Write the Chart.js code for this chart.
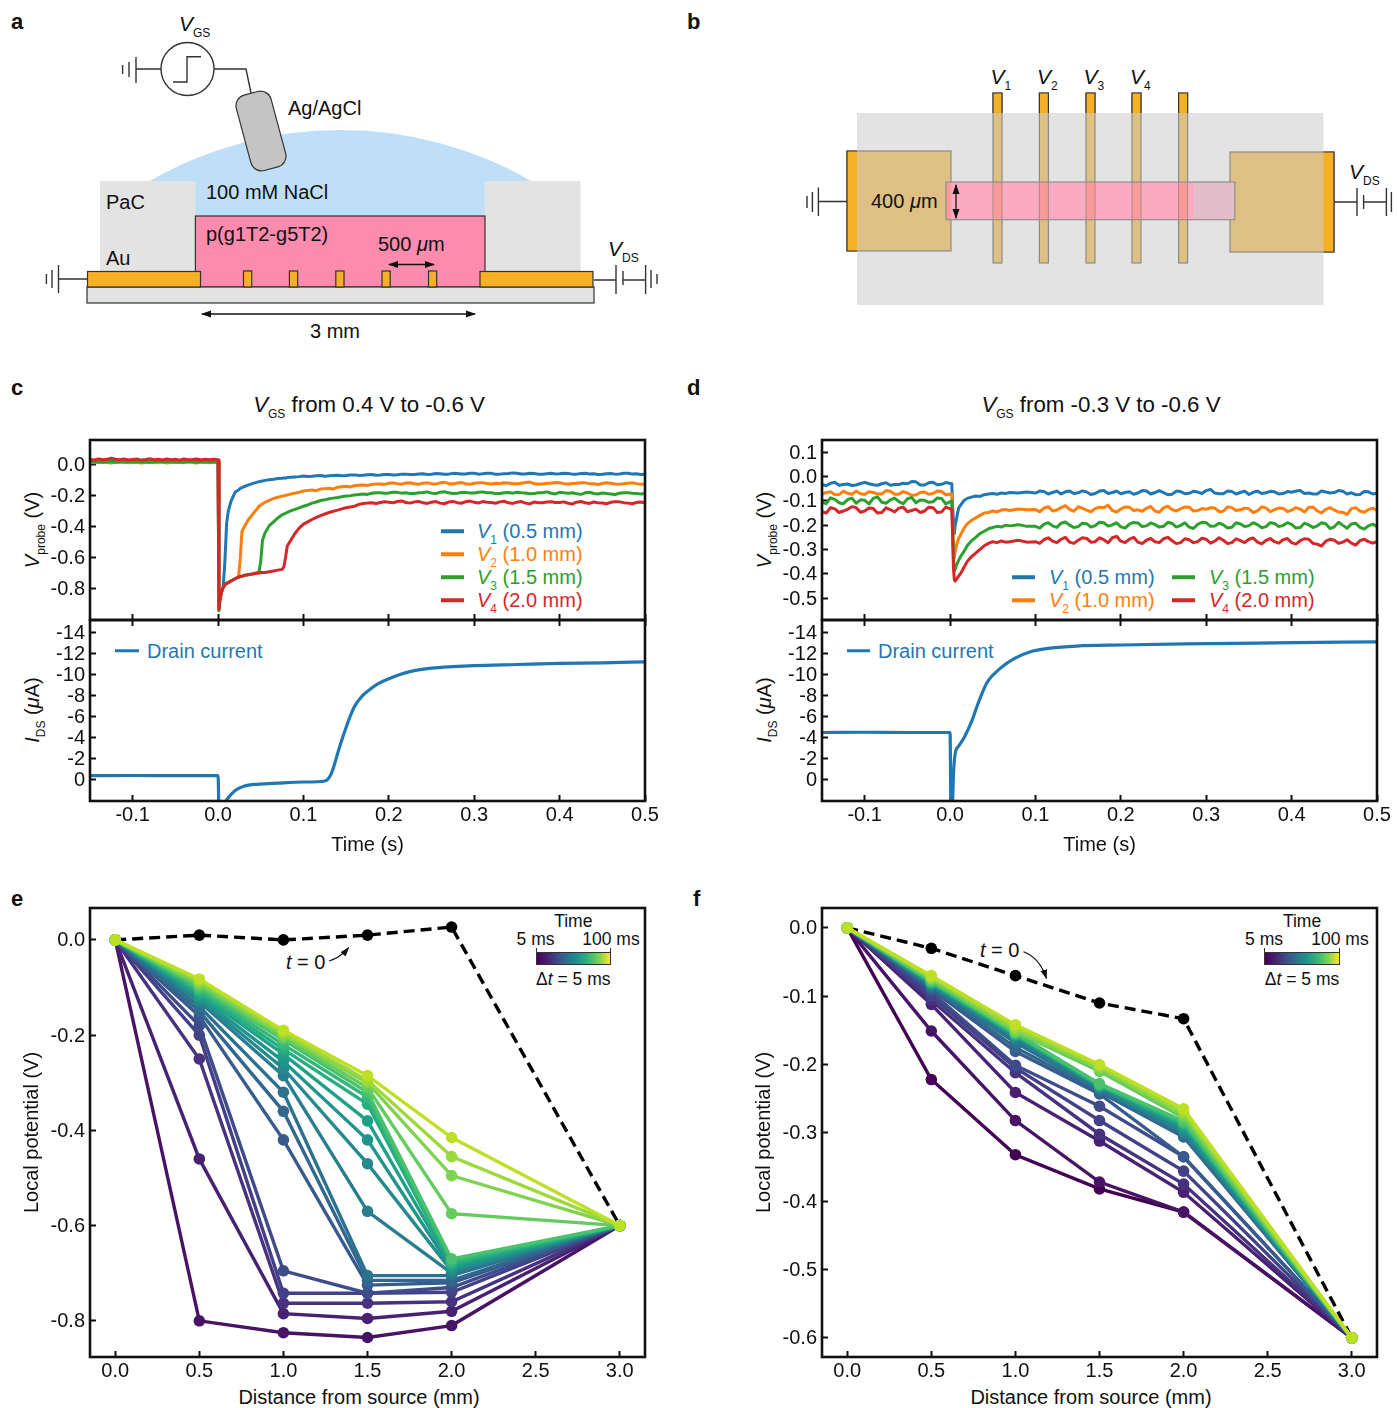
<!DOCTYPE html>
<html><head><meta charset="utf-8">
<script src="https://cdn.jsdelivr.net/npm/chart.js@4"></script>
<style>
html,body{margin:0;padding:0;background:#fff;width:1397px;height:1408px;overflow:hidden;font-family:"Liberation Sans",Arial,sans-serif;color:#111}
canvas{position:absolute}
.t{position:absolute;white-space:nowrap;font-size:20px;line-height:1;transform:translateY(-50%)}
.c{transform:translate(-50%,-50%)}
.r{transform:translate(-50%,-50%) rotate(-90deg)}
.b{font-weight:bold;font-size:22px}
sub{font-size:12px;vertical-align:baseline;position:relative;top:6px;margin-left:0;font-style:normal}
i sub{font-style:normal}
.sw{position:absolute;height:3.5px;transform:translateY(-50%)}
.cb{position:absolute;height:12.5px;box-sizing:border-box;border:1px solid #333;background:linear-gradient(90deg,#440154,#482173,#3e4c8a,#2c728e,#1f958b,#35b779,#7fd34e,#fde725)}
.tk{position:absolute;width:1.2px;height:5px;background:#333}
svg{position:absolute;left:0;top:0}
svg text{font-family:"Liberation Sans",Arial,sans-serif;font-size:20px;fill:#111}
</style></head><body>

<svg width="1397" height="1408" viewBox="0 0 1397 1408">
<defs>
<marker id="ah" viewBox="0 0 10 10" refX="9" refY="5" markerWidth="8" markerHeight="8" orient="auto-start-reverse"><path d="M0,1.5L10,5L0,8.5Z" fill="#111"/></marker>
</defs>
<!-- panel a -->
<path d="M148,182A382,382 0 0 1 533,182L533,217L148,217Z" fill="#bfdff8"/>
<g fill="#e3e3e3"><rect x="100" y="181" width="95.4" height="91"/><rect x="484.5" y="181" width="96" height="91"/></g>
<rect x="195.4" y="216" width="289.6" height="71" fill="#fc8bae" stroke="#333" stroke-width="1.2"/>
<rect x="87" y="287" width="507" height="16" fill="#e3e3e3" stroke="#333" stroke-width="1.2"/>
<g fill="#f5b025" stroke="#333" stroke-width="1.2">
<rect x="87.5" y="271.5" width="113" height="15.5"/><rect x="480" y="271.5" width="113" height="15.5"/>
<rect x="243.5" y="271" width="8.2" height="16"/><rect x="289.4" y="271" width="8.2" height="16"/><rect x="335.8" y="271" width="8.2" height="16"/><rect x="382" y="271" width="8.2" height="16"/><rect x="428.5" y="271" width="8.2" height="16"/>
</g>
<g fill="none" stroke="#333" stroke-width="1.4">
<circle cx="187.5" cy="69" r="26.5"/>
<path d="M173,82H187V56.7H201"/>
<path d="M161,69H136M136,57V83M129,62V77M122.6,65V74"/>
<path d="M214,69H246L251,93"/>
<path d="M87,279H58.5M58.5,265V293M52,270V288M46.4,274V284"/>
<path d="M594,280H616M616,265V294M623,271V285M623,280H645.6M645.6,265V294M651,270V288M657,274V284"/>
</g>
<rect x="243" y="92" width="36" height="78" rx="11" transform="rotate(-15 261 131)" fill="#c4c4c4" stroke="#333" stroke-width="1.2"/>
<g stroke="#111" stroke-width="1.3" fill="none" marker-start="url(#ah)" marker-end="url(#ah)">
<line x1="389" y1="264.5" x2="434" y2="264.5"/><line x1="202" y1="314" x2="475" y2="314"/>
</g>
<g dominant-baseline="central">
<text x="288" y="108">Ag/AgCl</text><text x="106" y="202">PaC</text><text x="106" y="258">Au</text>
<text x="206" y="192">100 mM NaCl</text><text x="206" y="234">p(g1T2-g5T2)</text>
<text x="378" y="244">500 <tspan font-style="italic">μ</tspan>m</text><text x="310" y="331">3 mm</text>
</g>
<!-- panel b -->
<rect x="857" y="113" width="466.5" height="192" fill="#e3e3e3"/>
<g stroke="#8a8a8a" stroke-width="1.2" fill="#dfc084">
<rect x="847" y="151" width="104" height="100"/><rect x="1230" y="152" width="104" height="100"/>
<rect x="993" y="93" width="9" height="170"/><rect x="1039.4" y="93" width="9" height="170"/><rect x="1086" y="93" width="9" height="170"/><rect x="1132" y="93" width="9" height="170"/><rect x="1178.6" y="93" width="9" height="170"/>
</g>
<g fill="#f5b025">
<rect x="847" y="151" width="10" height="100"/><rect x="1323.5" y="152" width="10.5" height="100"/>
<rect x="993" y="93" width="9" height="20"/><rect x="1039.4" y="93" width="9" height="20"/><rect x="1086" y="93" width="9" height="20"/><rect x="1132" y="93" width="9" height="20"/><rect x="1178.6" y="93" width="9" height="20"/>
</g>
<g fill="none" stroke="#333" stroke-width="1.2">
<path d="M857,151H847V251H857M1323.5,152H1334V252H1323.5"/>
<path d="M993,113V93H1002V113M1039.4,113V93H1048.4V113M1086,113V93H1095V113M1132,113V93H1141V113M1178.6,113V93H1187.6V113"/>
</g>
<rect x="946" y="182" width="248.6" height="37.7" fill="#fbaac4"/>
<rect x="1194.6" y="182" width="40.2" height="37.7" fill="#e2bcc8"/>
<g fill="#fa9a9a"><rect x="946" y="182" width="5" height="37.7"/><rect x="993" y="182" width="9" height="37.7"/><rect x="1039.4" y="182" width="9" height="37.7"/><rect x="1086" y="182" width="9" height="37.7"/><rect x="1132" y="182" width="9" height="37.7"/><rect x="1178.6" y="182" width="9" height="37.7"/></g>
<g stroke="#a58a80" stroke-width="1"><path d="M993,182V220M1002,182V220M1039.4,182V220M1048.4,182V220M1086,182V220M1095,182V220M1132,182V220M1141,182V220M1178.6,182V220M1187.6,182V220"/></g>
<rect x="946" y="182" width="288.8" height="37.7" fill="none" stroke="#8f8f8f" stroke-width="1.2"/>
<line x1="956" y1="185" x2="956" y2="218" stroke="#111" stroke-width="1.3" marker-start="url(#ah)" marker-end="url(#ah)"/>
<g fill="none" stroke="#333" stroke-width="1.4">
<path d="M847,201.5H818.4M818.4,187.6V216M812.4,192V212M807,196V208"/>
<path d="M1334,202H1357M1357,188V216M1363.6,195V209M1363.6,202H1386.4M1386.4,188V216M1391.4,192V212"/>
</g>
<text x="871" y="201" dominant-baseline="central">400 <tspan font-style="italic">μ</tspan>m</text>
<!-- t = 0 arrows -->
<g fill="none" stroke="#111" stroke-width="1.2" marker-end="url(#ah)">
<path d="M329,961Q340,958 348.6,947.7"/><path d="M1023.5,951.7Q1040,958 1046.4,978.3"/>
</g>
</svg>

<div id="overlay"></div>

<script>
// ---------- shared time grids ----------
const preC=[-0.15,-0.145,-0.14,-0.135,-0.13,-0.125,-0.12,-0.115,-0.11,-0.105,-0.10,-0.095,-0.09,-0.085,-0.08,-0.075,-0.07,-0.065,-0.06,-0.055,-0.05,-0.045,-0.04,-0.035,-0.03,-0.025,-0.02,-0.015,-0.01,-0.005,0.0];
const preD=[-0.15,-0.145,-0.14,-0.135,-0.13,-0.125,-0.12,-0.115,-0.11,-0.105,-0.10,-0.095,-0.09,-0.085,-0.08,-0.075,-0.07,-0.065,-0.06,-0.055,-0.05,-0.045,-0.04,-0.035,-0.03,-0.025,-0.02,-0.015,-0.01,-0.005,0.002];
const tail=[0.100,0.105,0.110,0.115,0.120,0.125,0.130,0.135,0.140,0.145,0.150,0.155,0.160,0.165,0.170,0.175,0.180,0.185,0.190,0.195,0.200,0.205,0.210,0.215,0.220,0.225,0.230,0.235,0.240,0.245,0.250,0.255,0.260,0.265,0.270,0.275,0.280,0.285,0.290,0.295,0.300,0.305,0.310,0.315,0.320,0.325,0.330,0.335,0.340,0.345,0.350,0.355,0.360,0.365,0.370,0.375,0.380,0.385,0.390,0.395,0.400,0.405,0.410,0.415,0.420,0.425,0.430,0.435,0.440,0.445,0.450,0.455,0.460,0.465,0.470,0.475,0.480,0.485,0.490,0.495,0.500];
// ---------- panel c : probe traces ----------
const midC=[0.001,0.002,0.004,0.006,0.008,0.010,0.012,0.015,0.020,0.024,0.026,0.028,0.030,0.035,0.040,0.046,0.048,0.050,0.052,0.055,0.060,0.065,0.070,0.075,0.077,0.079,0.081,0.085,0.090,0.095];
const timeC=[...preC,...midC,...tail];
const c1=[.022,.024,.020,.023,.019,.022,.025,.021,.024,.020,.022,.019,.023,.021,.024,.020,.022,.025,.019,.023,.021,.020,.024,.022,.019,.023,.021,.024,.020,.022,.021,
-.93,-.86,-.82,-.79,-.62,-.38,-.30,-.24,-.18,-.165,-.155,-.150,-.145,-.135,-.125,-.115,-.112,-.110,-.108,-.104,-.100,-.097,-.092,-.090,-.088,-.090,-.086,-.084,-.082,-.080,
-.076,-.079,-.078,-.074,-.073,-.077,-.075,-.072,-.071,-.075,-.073,-.070,-.069,-.072,-.071,-.068,-.067,-.071,-.070,-.066,-.066,-.069,-.068,-.064,-.064,-.067,-.067,-.063,-.062,-.066,-.065,-.060,-.061,-.065,-.064,-.059,-.060,-.063,-.063,-.058,-.058,-.064,-.062,-.059,-.059,-.065,-.064,-.061,-.060,-.056,-.058,-.063,-.063,-.059,-.060,-.064,-.065,-.061,-.059,-.063,-.062,-.058,-.060,-.064,-.064,-.060,-.058,-.063,-.061,-.066,-.065,-.061,-.060,-.064,-.063,-.059,-.059,-.063,-.062,-.066,-.064];
const c2=[.012,.009,.013,.010,.011,.008,.012,.010,.013,.009,.011,.012,.008,.010,.012,.011,.009,.013,.008,.011,.010,.012,.009,.013,.011,.008,.012,.010,.009,.012,.011,
-.93,-.87,-.82,-.79,-.775,-.765,-.76,-.75,-.735,-.725,-.60,-.43,-.41,-.36,-.325,-.285,-.270,-.262,-.255,-.245,-.232,-.22,-.212,-.205,-.203,-.20,-.198,-.192,-.186,-.180,
-.172,-.169,-.166,-.170,-.160,-.157,-.155,-.159,-.148,-.145,-.142,-.146,-.138,-.135,-.134,-.137,-.130,-.128,-.127,-.130,-.123,-.120,-.125,-.128,-.121,-.119,-.126,-.129,-.122,-.120,-.125,-.128,-.120,-.117,-.124,-.127,-.121,-.118,-.126,-.129,-.123,-.119,-.120,-.124,-.127,-.122,-.124,-.120,-.121,-.126,-.126,-.122,-.118,-.115,-.124,-.128,-.127,-.123,-.122,-.118,-.119,-.125,-.128,-.124,-.123,-.119,-.120,-.125,-.126,-.130,-.124,-.120,-.122,-.127,-.129,-.125,-.122,-.119,-.125,-.129,-.127];
const c3=[.018,.014,.016,.013,.017,.015,.014,.018,.013,.016,.015,.017,.014,.016,.013,.016,.018,.014,.015,.017,.013,.016,.014,.018,.015,.013,.017,.016,.014,.015,.016,
-.94,-.88,-.82,-.79,-.775,-.765,-.76,-.75,-.735,-.725,-.72,-.72,-.715,-.71,-.705,-.695,-.69,-.62,-.49,-.44,-.395,-.37,-.345,-.325,-.32,-.315,-.31,-.30,-.29,-.28,
-.270,-.262,-.250,-.243,-.233,-.229,-.222,-.218,-.214,-.209,-.205,-.202,-.198,-.195,-.191,-.194,-.187,-.184,-.183,-.187,-.185,-.180,-.181,-.186,-.184,-.189,-.188,-.183,-.182,-.178,-.186,-.189,-.180,-.177,-.184,-.188,-.187,-.182,-.181,-.185,-.185,-.180,-.178,-.183,-.184,-.189,-.188,-.183,-.182,-.186,-.180,-.184,-.185,-.190,-.189,-.184,-.183,-.178,-.187,-.191,-.181,-.184,-.186,-.183,-.190,-.194,-.184,-.180,-.188,-.192,-.185,-.188,-.191,-.195,-.187,-.183,-.183,-.187,-.188,-.192,-.189];
const c4=[.030,.027,.034,.028,.032,.038,.031,.028,.034,.027,.030,.033,.026,.030,.035,.029,.032,.027,.033,.029,.031,.026,.034,.028,.030,.033,.027,.031,.029,.032,.029,
-.93,-.88,-.82,-.79,-.775,-.765,-.76,-.75,-.735,-.725,-.72,-.72,-.715,-.71,-.705,-.70,-.70,-.695,-.695,-.695,-.69,-.685,-.68,-.675,-.66,-.60,-.525,-.49,-.445,-.41,
-.385,-.370,-.355,-.342,-.330,-.320,-.310,-.302,-.295,-.287,-.280,-.275,-.270,-.258,-.253,-.250,-.248,-.252,-.246,-.241,-.244,-.248,-.240,-.236,-.246,-.250,-.242,-.239,-.248,-.252,-.244,-.240,-.250,-.254,-.243,-.239,-.247,-.251,-.241,-.237,-.245,-.249,-.240,-.244,-.246,-.251,-.242,-.238,-.248,-.252,-.244,-.240,-.250,-.255,-.243,-.247,-.247,-.243,-.241,-.246,-.246,-.242,-.251,-.255,-.244,-.240,-.248,-.252,-.243,-.247,-.249,-.254,-.245,-.241,-.242,-.247,-.250,-.254,-.246,-.243,-.248];
// ---------- panel c : drain current ----------
const timeIC=[-0.15,-0.10,-0.05,-0.001,0.0,0.001,0.007,0.010,0.015,0.020,0.030,0.048,0.070,0.100,0.125,0.132,0.136,0.140,0.145,0.150,0.155,0.160,0.167,0.175,0.187,0.200,0.213,0.226,0.250,0.275,0.300,0.350,0.400,0.450,0.500];
const currentC=[-.4,-.42,-.4,-.4,-.4,2.5,2.5,1.9,1.4,1.0,.6,.4,.3,.2,.1,-.5,-1.4,-2.5,-3.8,-5,-6.1,-7,-7.8,-8.4,-9.1,-9.6,-10,-10.3,-10.6,-10.75,-10.85,-10.95,-11.05,-11.1,-11.2];
// ---------- panel d : probe traces ----------
const midD=[0.003,0.004,0.005,0.006,0.008,0.010,0.013,0.016,0.020,0.025,0.030,0.035,0.040,0.045,0.050,0.055,0.060,0.065,0.070,0.080,0.090];
const timeD=[...preD,...midD,...tail];
const d1=[-.033,-.038,-.028,-.024,-.036,-.033,-.031,-.037,-.035,-.029,-.024,-.030,-.034,-.036,-.030,-.026,-.036,-.033,-.033,-.028,-.030,-.021,-.022,-.035,-.035,-.026,-.024,-.034,-.032,-.025,-.030,
-.12,-.20,-.235,-.20,-.165,-.13,-.115,-.10,-.09,-.085,-.08,-.082,-.075,-.072,-.07,-.073,-.068,-.07,-.066,-.068,-.064,
-.068,-.060,-.062,-.072,-.066,-.060,-.072,-.063,-.060,-.070,-.067,-.059,-.064,-.074,-.070,-.060,-.058,-.070,-.066,-.060,-.071,-.066,-.063,-.073,-.068,-.058,-.060,-.072,-.066,-.058,-.066,-.075,-.073,-.060,-.062,-.071,-.069,-.061,-.064,-.070,-.058,-.053,-.068,-.071,-.071,-.060,-.062,-.072,-.066,-.060,-.074,-.065,-.060,-.070,-.067,-.061,-.063,-.072,-.070,-.062,-.065,-.060,-.058,-.070,-.068,-.072,-.072,-.060,-.064,-.068,-.066,-.058,-.061,-.072,-.067,-.075,-.074,-.062,-.063,-.072,-.069];
const d2=[-.072,-.066,-.063,-.074,-.075,-.060,-.069,-.073,-.060,-.071,-.074,-.063,-.066,-.072,-.072,-.058,-.061,-.073,-.073,-.062,-.068,-.077,-.076,-.066,-.064,-.073,-.070,-.060,-.062,-.075,-.072,
-.18,-.30,-.335,-.31,-.275,-.255,-.235,-.215,-.195,-.18,-.17,-.16,-.15,-.148,-.142,-.145,-.138,-.136,-.140,-.134,-.137,
-.136,-.145,-.130,-.124,-.142,-.138,-.128,-.120,-.135,-.143,-.124,-.130,-.138,-.145,-.132,-.126,-.128,-.118,-.140,-.146,-.134,-.125,-.126,-.140,-.137,-.143,-.131,-.123,-.142,-.147,-.129,-.122,-.136,-.142,-.133,-.125,-.126,-.142,-.140,-.132,-.135,-.128,-.130,-.144,-.143,-.125,-.128,-.140,-.137,-.130,-.133,-.148,-.141,-.125,-.129,-.145,-.136,-.130,-.131,-.144,-.139,-.128,-.134,-.146,-.127,-.125,-.141,-.150,-.135,-.128,-.138,-.146,-.148,-.156,-.132,-.128,-.142,-.147,-.136,-.130,-.139];
const d3=[-.105,-.112,-.088,-.094,-.108,-.112,-.095,-.089,-.110,-.096,-.098,-.113,-.090,-.084,-.106,-.110,-.096,-.089,-.103,-.112,-.092,-.086,-.108,-.097,-.098,-.106,-.104,-.088,-.090,-.113,-.100,
-.22,-.34,-.39,-.38,-.36,-.345,-.325,-.31,-.285,-.265,-.25,-.235,-.225,-.215,-.21,-.205,-.208,-.20,-.203,-.198,-.205,
-.205,-.212,-.196,-.190,-.203,-.209,-.192,-.187,-.200,-.210,-.206,-.192,-.194,-.208,-.202,-.188,-.190,-.204,-.199,-.190,-.207,-.212,-.196,-.189,-.191,-.206,-.203,-.191,-.198,-.208,-.205,-.188,-.193,-.208,-.201,-.190,-.208,-.214,-.197,-.188,-.190,-.205,-.204,-.192,-.199,-.212,-.209,-.190,-.195,-.206,-.202,-.190,-.198,-.211,-.206,-.190,-.193,-.206,-.201,-.190,-.197,-.212,-.210,-.192,-.199,-.210,-.203,-.190,-.194,-.214,-.207,-.188,-.201,-.213,-.195,-.192,-.209,-.216,-.203,-.196,-.206];
const d4=[-.145,-.150,-.128,-.133,-.148,-.142,-.135,-.124,-.128,-.147,-.142,-.130,-.132,-.150,-.148,-.129,-.136,-.146,-.130,-.126,-.145,-.140,-.134,-.148,-.142,-.126,-.128,-.148,-.146,-.126,-.135,
-.25,-.38,-.425,-.43,-.42,-.41,-.395,-.375,-.35,-.33,-.315,-.30,-.285,-.275,-.268,-.272,-.265,-.27,-.268,-.262,-.27,
-.268,-.275,-.260,-.252,-.266,-.272,-.258,-.250,-.270,-.275,-.262,-.252,-.255,-.270,-.268,-.252,-.260,-.272,-.252,-.246,-.266,-.272,-.258,-.250,-.270,-.276,-.262,-.255,-.268,-.272,-.256,-.250,-.264,-.276,-.272,-.256,-.260,-.272,-.268,-.254,-.258,-.274,-.266,-.252,-.262,-.276,-.272,-.256,-.264,-.272,-.258,-.253,-.270,-.277,-.263,-.255,-.268,-.274,-.260,-.255,-.272,-.278,-.264,-.256,-.258,-.275,-.278,-.286,-.266,-.258,-.262,-.275,-.270,-.260,-.274,-.282,-.264,-.258,-.268,-.274,-.268];
// ---------- panel d : drain current ----------
const timeID=[-0.15,-0.10,-0.05,-0.001,0.0,0.001,0.003,0.004,0.006,0.010,0.017,0.025,0.033,0.043,0.059,0.075,0.096,0.117,0.148,0.200,0.275,0.380,0.500];
const currentD=[-4.5,-4.52,-4.5,-4.5,-4.5,2.5,1.9,-.6,-2.5,-3.2,-4.1,-5.5,-7.3,-9.2,-10.6,-11.5,-12.2,-12.5,-12.7,-12.8,-12.9,-13.0,-13.1];
// ---------- panels e, f : potential profiles ----------
const distance=[0,0.5,1.0,1.5,2.0,3.0];
const initialE=[0,.01,0,.01,.027,-.6];
const initialF=[0,-.03,-.07,-.11,-.133,-.6];
const profilesE=[
[0,-.80,-.825,-.835,-.81,-.6],[0,-.46,-.785,-.795,-.78,-.6],[0,-.25,-.763,-.763,-.76,-.6],[0,-.20,-.742,-.742,-.74,-.6],
[0,-.18,-.695,-.742,-.73,-.6],[0,-.16,-.42,-.725,-.72,-.6],[0,-.15,-.36,-.715,-.715,-.6],[0,-.14,-.32,-.705,-.705,-.6],
[0,-.13,-.285,-.57,-.70,-.6],[0,-.125,-.27,-.47,-.695,-.6],[0,-.12,-.255,-.42,-.69,-.6],[0,-.115,-.24,-.38,-.685,-.6],
[0,-.11,-.23,-.345,-.68,-.6],[0,-.105,-.22,-.33,-.675,-.6],[0,-.10,-.21,-.32,-.67,-.6],[0,-.095,-.205,-.31,-.575,-.6],
[0,-.09,-.20,-.30,-.495,-.6],[0,-.085,-.195,-.295,-.455,-.6],[0,-.082,-.19,-.285,-.415,-.6]];
const profilesF=[
[0,-.222,-.332,-.382,-.416,-.6],[0,-.151,-.282,-.372,-.416,-.6],[0,-.112,-.241,-.312,-.387,-.6],[0,-.106,-.212,-.302,-.375,-.6],
[0,-.10,-.205,-.282,-.356,-.6],[0,-.094,-.201,-.261,-.335,-.6],[0,-.09,-.181,-.243,-.335,-.6],[0,-.088,-.175,-.24,-.306,-.6],
[0,-.086,-.168,-.237,-.303,-.6],[0,-.084,-.163,-.235,-.30,-.6],[0,-.083,-.16,-.233,-.296,-.6],[0,-.082,-.158,-.232,-.293,-.6],
[0,-.081,-.157,-.231,-.29,-.6],[0,-.08,-.156,-.23,-.287,-.6],[0,-.079,-.155,-.23,-.285,-.6],[0,-.078,-.154,-.228,-.283,-.6],
[0,-.076,-.152,-.21,-.278,-.6],[0,-.074,-.15,-.206,-.274,-.6],[0,-.072,-.146,-.203,-.27,-.6],[0,-.07,-.142,-.20,-.265,-.6]];
const viridis=['#440154','#471365','#482173','#46327e','#424086','#3e4c8a','#375b8d','#31678e','#2c728e','#287d8e','#238a8d','#1f958b','#1fa187','#26ad81','#35b779','#4ac16d','#64cb5f','#7fd34e','#9dd93b','#bddf26'];
// ---------- ticks ----------
const ticksTime=[-0.1,0,0.1,0.2,0.3,0.4,0.5];
const ticksProbeC=[0,-0.2,-0.4,-0.6,-0.8];
const ticksProbeD=[0.1,0,-0.1,-0.2,-0.3,-0.4,-0.5];
const ticksCurrent=[-14,-12,-10,-8,-6,-4,-2,0];
const ticksDistance=[0,0.5,1,1.5,2,2.5,3];
const ticksLocalE=[0,-0.2,-0.4,-0.6,-0.8];
const ticksLocalF=[0,-0.1,-0.2,-0.3,-0.4,-0.5,-0.6];
const tab=['#1f77b4','#ff7f0e','#2ca02c','#d62728'];

const FONT={family:'"Liberation Sans"',size:20};
const fix1=v=>Number(v).toFixed(1), fix0=v=>String(v);
const frame={id:'frame',afterDatasetsDraw(ch){const a=ch.chartArea,c=ch.ctx;c.save();c.strokeStyle='#111';c.lineWidth=2.6;c.strokeRect(a.left,a.top,a.right-a.left,a.bottom-a.top);c.restore();}};
const zip=(xs,ys)=>ys.map((y,i)=>({x:xs[i],y}));

function axis(o){return Object.assign({type:'linear',offset:false,border:{display:false},
  grid:{drawOnChartArea:false,drawTicks:true,tickLength:-6,tickWidth:2,tickColor:'#111'},
  },{min:o.min,max:o.max,reverse:!!o.reverse,position:o.pos,
  ticks:{display:o.labels!==false,autoSkip:false,maxRotation:0,includeBounds:false,font:FONT,color:'#111',padding:o.pad,labelOffset:o.lo||0,callback:o.fmt||fix1},
  afterBuildTicks(s){s.ticks=o.ticks.map(v=>({value:v}));},
  afterFit(s){ if(o.size.w!==undefined)s.width=o.size.w; if(o.size.h!==undefined)s.height=o.size.h; s.paddingLeft=s.paddingRight=s.paddingTop=s.paddingBottom=0; },
  title:o.title?{display:true,text:o.title,font:FONT,color:'#111',padding:0}:{display:false}});}

function plot(f,xo,yo,datasets,extra){
  const cv=document.createElement('canvas');
  const yW=70, pr=30, pt=10, xH=xo.labels===false?2:(xo.h||56);
  cv.width=f.r-f.l+yW+pr; cv.height=f.b-f.t+pt+xH;
  cv.style.left=(f.l-yW)+'px'; cv.style.top=(f.t-pt)+'px';
  cv.style.width=cv.width+'px'; cv.style.height=cv.height+'px';
  document.body.appendChild(cv);
  const scales={x:axis({...xo,pos:'bottom',size:{h:xH}}),y:axis({...yo,lo:1,pos:'left',size:{w:yW}})};
  if(extra)Object.assign(scales,extra);
  new Chart(cv.getContext('2d'),{type:'line',data:{datasets},plugins:[frame],options:{
    responsive:false,animation:false,devicePixelRatio:1,events:[],
    layout:{padding:{top:pt,right:pr,left:0,bottom:0}},
    plugins:{legend:{display:false},tooltip:{enabled:false}},
    scales}});
}
const trace=(x,y,color)=>({data:zip(x,y),borderColor:color,borderWidth:3,pointRadius:0,tension:0,fill:false,borderJoinStyle:'round'});
const current=(x,y,color)=>({data:zip(x,y),borderColor:color,borderWidth:3.2,pointRadius:0,cubicInterpolationMode:'monotone',fill:false});
const profile=(y,color,i)=>({data:zip(distance,y),borderColor:color,backgroundColor:color,borderWidth:3.4,pointRadius:5.8,pointBorderWidth:0,pointBackgroundColor:color,tension:0,order:100-i});
function dividerAxis(){return axis({min:-0.15,max:0.5,pos:'top',ticks:ticksTime,labels:false,pad:0,size:{h:0}});}

// panel c
plot({l:90,r:645,t:440,b:620},{min:-0.15,max:0.5,ticks:ticksTime,labels:false,pad:0},
  {min:-1.0,max:0.155,ticks:ticksProbeC,pad:11},
  [trace(timeC,c1,tab[0]),trace(timeC,c2,tab[1]),trace(timeC,c3,tab[2]),trace(timeC,c4,tab[3])].map((d,i)=>({...d,order:4-i})));
plot({l:90,r:645,t:620,b:801},{min:-0.15,max:0.5,ticks:ticksTime,pad:8,title:'Time (s)'},
  {min:-15.17,max:2,reverse:true,ticks:ticksCurrent,pad:11,fmt:fix0},
  [current(timeIC,currentC,tab[0])],{x2:dividerAxis()});
// panel d
plot({l:822,r:1377,t:440,b:620},{min:-0.15,max:0.5,ticks:ticksTime,labels:false,pad:0},
  {min:-0.59,max:0.15,ticks:ticksProbeD,pad:11},
  [trace(timeD,d1,tab[0]),trace(timeD,d2,tab[1]),trace(timeD,d3,tab[2]),trace(timeD,d4,tab[3])].map((d,i)=>({...d,order:4-i})));
plot({l:822,r:1377,t:620,b:801},{min:-0.15,max:0.5,ticks:ticksTime,pad:8,title:'Time (s)'},
  {min:-15.17,max:2,reverse:true,ticks:ticksCurrent,pad:11,fmt:fix0},
  [current(timeID,currentD,tab[0])],{x2:dividerAxis()});
// panel e
const black=y=>({data:zip(distance,y),borderColor:'#000',borderWidth:3.4,borderDash:[11,6],pointRadius:5.8,pointBorderWidth:0,pointBackgroundColor:'#000',tension:0,order:200});
plot({l:90,r:645,t:908,b:1357},{min:-0.15,max:3.15,ticks:ticksDistance,pad:8,h:34},
  {min:-0.876,max:0.067,ticks:ticksLocalE,pad:11,title:'Local potential (V)'},
  [black(initialE),...profilesE.map((p,i)=>profile(p,viridis[i+1],i))]);
// panel f
plot({l:822,r:1377,t:908,b:1357},{min:-0.15,max:3.15,ticks:ticksDistance,pad:8,h:34},
  {min:-0.628,max:0.029,ticks:ticksLocalF,pad:11,title:'Local potential (V)'},
  [black(initialF),...profilesF.map((p,i)=>profile(p,viridis[i],i))]);

// ---------- html text ----------
const ov=document.getElementById('overlay');
function T(html,x,y,cls,style){const d=document.createElement('div');d.className='t '+(cls||'');d.innerHTML=html;d.style.left=x+'px';d.style.top=y+'px';if(style)d.style.cssText+=';'+style;ov.appendChild(d);}
function S(x1,x2,y,col){const d=document.createElement('div');d.className='sw';d.style.cssText=`left:${x1}px;width:${x2-x1}px;top:${y}px;background:${col}`;ov.appendChild(d);}
[['a',11,22],['b',687,22],['c',11,388],['d',687,388],['e',11,899],['f',693,899]].forEach(p=>T(p[0],p[1],p[2],'b'));
T('Distance from source (mm)',359,1397,'c');
T('Distance from source (mm)',1091,1397,'c');
T('<i>V</i><sub>GS</sub>',179,23,'','font-size:21px');
T('<i>V</i><sub>DS</sub>',608,248,'','font-size:21px');
T('<i>V</i><sub>DS</sub>',1349,171,'','font-size:21px');
[['1',990.5],['2',1037],['3',1083.6],['4',1130]].forEach(p=>T('<i>V</i><sub>'+p[0]+'</sub>',p[1],76,'','font-size:21px'));
T('<i>V</i><sub>GS</sub> from 0.4 V to -0.6 V',369,405,'c','font-size:22.3px');
T('<i>V</i><sub>GS</sub> from -0.3 V to -0.6 V',1101,405,'c','font-size:22.3px');
[32,764].forEach(x=>{
  T('<i>V</i><sub>probe</sub> (V)',x,530,'r');
  T('<i>I</i><sub>DS</sub> (<i>μ</i>A)',x,710,'r');
});
const lg=[['1','0.5',tab[0]],['2','1.0',tab[1]],['3','1.5',tab[2]],['4','2.0',tab[3]]];
const lgT=(n,d,c,x,y)=>T('<i>V</i><sub>'+n+'</sub> ('+d+' mm)',x,y,'','color:'+c);
lg.forEach((l,i)=>{const y=531+i*23;S(440.6,463.6,y,l[2]);lgT(l[0],l[1],l[2],477,y);});
S(1012,1035,577,tab[0]);lgT('1','0.5',tab[0],1049,577);
S(1012,1035,600,tab[1]);lgT('2','1.0',tab[1],1049,600);
S(1172,1194.5,577,tab[2]);lgT('3','1.5',tab[2],1209,577);
S(1172,1194.5,600,tab[3]);lgT('4','2.0',tab[3],1209,600);
S(115,138.6,650.7,tab[0]);T('Drain current',147,651,'','color:'+tab[0]);
S(847,870,650.7,tab[0]);T('Drain current',878,651,'','color:'+tab[0]);
[[535.5,611],[1264,1340]].forEach(([a,b])=>{
  const m=(a+b)/2;
  T('Time',m,922,'c','font-size:17.5px');T('5 ms',a,940,'c','font-size:17.5px');T('100 ms',b,940,'c','font-size:17.5px');
  const d=document.createElement('div');d.className='cb';d.style.cssText=`left:${a}px;width:${b-a}px;top:952px`;ov.appendChild(d);
  [a,b-1.2].forEach(x=>{const k=document.createElement('div');k.className='tk';k.style.cssText=`left:${x}px;top:948px`;ov.appendChild(k);});
  T('Δ<i>t</i> = 5 ms',m,980,'c','font-size:17.5px');
});
T('<i>t</i> = 0',286,962);
T('<i>t</i> = 0',980,950);
</script>
</body></html>
